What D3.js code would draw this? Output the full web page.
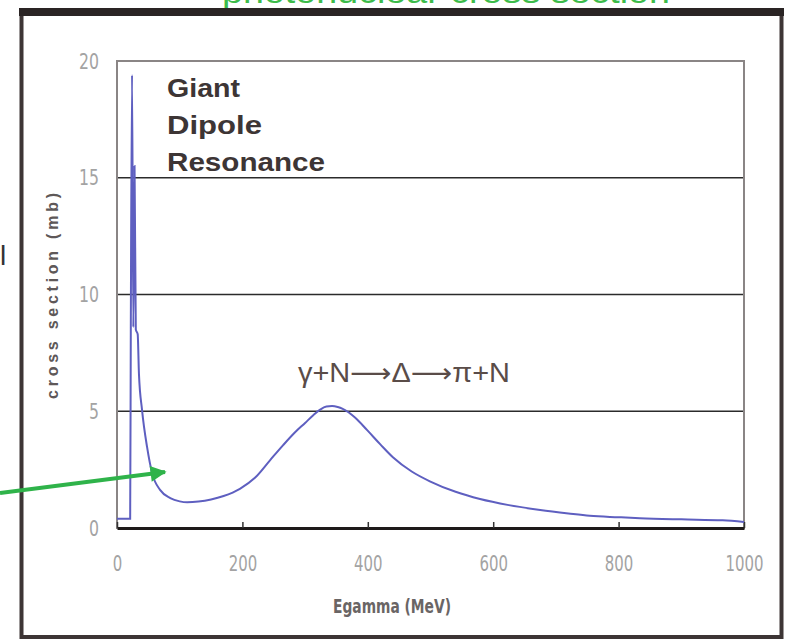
<!DOCTYPE html>
<html>
<head>
<meta charset="utf-8">
<script src="https://d3js.org/d3.v7.min.js"></script>
<style>
  body { margin: 0; background: #fff; }
  svg { display: block; }
</style>
</head>
<body>
<svg id="chart" width="790" height="640"></svg>
<script>

// photon energy (MeV) and cross section (mb)
var energy = [0, 21, 22, 24, 26, 28, 30, 33, 35, 40, 48, 56, 69, 85, 100, 112, 130, 150, 170, 196,
              220, 244, 265, 284, 300, 313, 324, 334, 343, 352, 360, 380, 399, 420, 440, 470, 499,
              540, 579, 625, 675, 720, 754, 800, 834, 900, 966, 1000];
var sigma  = [0.4, 0.4, 8.4, 19.4, 8.6, 15.5, 8.5, 8.3, 6.6, 5.04, 3.46, 2.35, 1.62, 1.28, 1.14, 1.1, 1.13, 1.22, 1.37, 1.68,
              2.15, 2.9, 3.55, 4.1, 4.5, 4.83, 5.07, 5.2, 5.22, 5.18, 5.1, 4.72, 4.19, 3.58, 3.03, 2.42, 2.0,
              1.55, 1.24, 0.98, 0.77, 0.62, 0.52, 0.46, 0.42, 0.37, 0.33, 0.26];

var xTicks = [0, 200, 400, 600, 800, 1000];
var yTicks = [0, 5, 10, 15, 20];
var gridValues = [5, 10, 15];
var gdrLines = ["Giant", "Dipole", "Resonance"];

var plot = { left: 117, right: 744, top: 61, bottom: 528 };
var tickFont = "'Liberation Sans Narrow', 'DejaVu Sans Condensed', Arial, sans-serif";

var svg = d3.select("#chart");

var x = d3.scaleLinear().domain([0, 1000]).range([plot.left, plot.right]);
var y = d3.scaleLinear().domain([0, 20]).range([plot.bottom, plot.top]);

// green slide title, mostly cut off by the top edge
svg.append("text")
  .attr("x", 446)
  .attr("y", 3)
  .attr("text-anchor", "middle")
  .style("font-family", "Arial, 'Liberation Sans', sans-serif")
  .style("font-size", "32px")
  .attr("textLength", 448)
  .attr("lengthAdjust", "spacingAndGlyphs")
  .style("fill", "#3dbb4a")
  .text("photonuclear cross section");

// stray letter left of the frame
svg.append("text")
  .attr("x", 0)
  .attr("y", 265)
  .style("font-family", "Arial, sans-serif")
  .style("font-size", "28px")
  .style("fill", "#333")
  .text("l");

// outer frame
svg.append("rect")
  .attr("x", 21.5).attr("y", 12)
  .attr("width", 760).attr("height", 625)
  .attr("fill", "none")
  .attr("stroke", "#3d3535")
  .attr("stroke-width", 4);
svg.append("line")
  .attr("x1", 19).attr("x2", 784)
  .attr("y1", 12).attr("y2", 12)
  .attr("stroke", "#2a2424")
  .attr("stroke-width", 8);

// grid lines
svg.selectAll(".grid")
  .data(gridValues)
  .enter()
  .append("line")
    .attr("class", "grid")
    .attr("x1", plot.left).attr("x2", plot.right)
    .attr("y1", function(d) { return y(d); })
    .attr("y2", function(d) { return y(d); })
    .attr("stroke", "#2b2b2b")
    .attr("stroke-width", 1.5);

// plot border: grey top/left/right, dark bottom
svg.append("rect")
  .attr("x", plot.left).attr("y", plot.top)
  .attr("width", plot.right - plot.left)
  .attr("height", plot.bottom - plot.top)
  .attr("fill", "none")
  .attr("stroke", "#8a8585")
  .attr("stroke-width", 2);

// x axis
var xAxis = svg.append("g")
  .attr("transform", "translate(0," + plot.bottom + ")")
  .call(d3.axisBottom(x).tickValues(xTicks).tickFormat(d3.format("d"))
        .tickSizeInner(-6).tickSizeOuter(0).tickPadding(27));
xAxis.select(".domain")
  .attr("stroke", "#1e1a1a")
  .attr("stroke-width", 3);
xAxis.selectAll(".tick line").attr("stroke", "#333").attr("stroke-width", 1.5);
xAxis.selectAll("text")
  .attr("textLength", function(d) { return String(d).length * 9.5; })
  .attr("lengthAdjust", "spacingAndGlyphs")
  .style("font-family", tickFont)
  .style("font-size", "22px")
  .style("fill", "#a3a3a3");

// y axis
var yAxis = svg.append("g")
  .attr("transform", "translate(" + plot.left + ",0)")
  .call(d3.axisLeft(y).tickValues(yTicks).tickSize(0).tickPadding(18));
yAxis.select(".domain").remove();
yAxis.selectAll("text")
  .attr("textLength", function(d) { return String(d).length * 10; })
  .attr("lengthAdjust", "spacingAndGlyphs")
  .style("font-family", tickFont)
  .style("font-size", "22px")
  .style("fill", "#a3a3a3");

// cross section curve
var line = d3.line()
  .x(function(d, i) { return x(energy[i]); })
  .y(function(d) { return y(d); })
  .curve(d3.curveMonotoneX);

svg.append("path")
  .datum(sigma)
  .attr("d", line)
  .attr("fill", "none")
  .attr("stroke", "#5e5fc0")
  .attr("stroke-width", 2);

// axis titles
svg.append("text")
  .attr("x", 392)
  .attr("y", 613)
  .attr("text-anchor", "middle")
  .attr("textLength", 118)
  .attr("lengthAdjust", "spacingAndGlyphs")
  .style("font-family", tickFont)
  .style("font-size", "20px")
  .style("font-weight", "bold")
  .style("fill", "#6a6565")
  .text("Egamma (MeV)");

svg.append("text")
  .attr("transform", "translate(58,296) rotate(-90)")
  .attr("text-anchor", "middle")
  .style("font-family", "Arial, 'Liberation Sans', sans-serif")
  .style("font-size", "16px")
  .style("font-weight", "bold")
  .style("fill", "#5e5858")
  .attr("textLength", 206)
  .attr("lengthAdjust", "spacing")
  .text("cross section (mb)");

// annotations
var gdrWidths = [73, 95, 158];
svg.selectAll(".gdr")
  .data(gdrLines)
  .enter()
  .append("text")
    .attr("class", "gdr")
    .attr("x", 167)
    .attr("y", function(d, i) { return 97 + i * 37; })
    .attr("textLength", function(d, i) { return gdrWidths[i]; })
    .attr("lengthAdjust", "spacingAndGlyphs")
    .style("font-family", "Arial, 'Liberation Sans', sans-serif")
    .style("font-size", "26px")
    .style("font-weight", "bold")
    .style("fill", "#3d3535")
    .text(function(d) { return d; });

svg.append("text")
  .attr("x", 298)
  .attr("y", 382)
  .attr("textLength", 212)
  .attr("lengthAdjust", "spacingAndGlyphs")
  .style("font-family", "Arial, 'Liberation Sans', 'DejaVu Sans', sans-serif")
  .style("font-size", "27px")
  .style("fill", "#5a4c48")
  .text("\u03b3+N\u27f6\u0394\u27f6\u03c0+N");

// green arrow pointing at the tail of the GDR
svg.append("defs").append("marker")
  .attr("id", "head")
  .attr("viewBox", "0 0 10 10")
  .attr("refX", 9).attr("refY", 5)
  .attr("markerWidth", 5).attr("markerHeight", 4)
  .attr("orient", "auto")
  .append("path")
    .attr("d", "M0,0 L10,5 L0,10 z")
    .attr("fill", "#2fb34a");

svg.append("line")
  .attr("x1", 0).attr("y1", 493)
  .attr("x2", 165).attr("y2", 472)
  .attr("stroke", "#2fb34a")
  .attr("stroke-width", 4)
  .attr("marker-end", "url(#head)");

</script>
</body>
</html>
